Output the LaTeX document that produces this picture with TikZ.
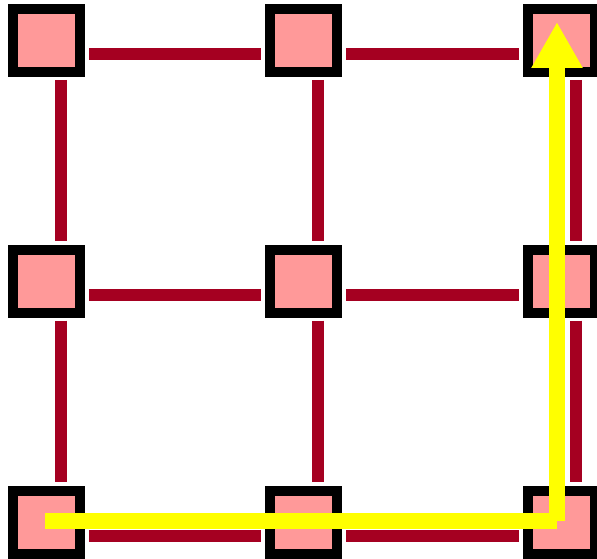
\documentclass[tikz,border=0pt]{standalone}
\usetikzlibrary{arrows.meta,calc}
\definecolor{nodepink}{HTML}{FF9999}
\definecolor{edgered}{HTML}{A50021}
\definecolor{pathyellow}{HTML}{FFFF00}
\tikzset{
  gridnode/.style={draw=black, fill=nodepink, line width=10pt, line join=miter,
    minimum width=67pt, minimum height=63pt, inner sep=0pt, outer sep=0pt},
  hedge/.style={draw=edgered, line width=12pt, line cap=butt, shorten <=9pt, shorten >=9pt},
  vedge/.style={draw=edgered, line width=12pt, line cap=butt, shorten <=8pt, shorten >=8.5pt},
  route/.style={draw=pathyellow, line width=16pt, line cap=butt}
}
\begin{document}
\begin{tikzpicture}[x=1pt,y=-1pt]
\useasboundingbox (0,0) rectangle (597,559);
% nodes
\node[gridnode] (n00) at (46.5,40.5) {};
\node[gridnode] (n10) at (303.5,40.5) {};
\node[gridnode] (n20) at (561.5,40.5) {};
\node[gridnode] (n01) at (46.5,281) {};
\node[gridnode] (n11) at (303.5,281) {};
\node[gridnode] (n21) at (561.5,281) {};
\node[gridnode] (n02) at (46.5,522) {};
\node[gridnode] (n12) at (303.5,522) {};
\node[gridnode] (n22) at (561.5,522) {};
% horizontal edges (offset)
\foreach \a/\b in {n00/n10,n10/n20,n01/n11,n11/n21,n02/n12,n12/n22}{
  \draw[hedge] ([shift={(0,13.5)}]\a.east) -- ([shift={(0,13.5)}]\b.west);
}
% vertical edges (offset)
\foreach \a/\b in {n00/n01,n01/n02,n10/n11,n11/n12,n20/n21,n21/n22}{
  \draw[vedge] ([shift={(14.5,0)}]\a.south) -- ([shift={(14.5,0)}]\b.north);
}
% yellow route
\coordinate (ystart) at ($(n02.center)+(-1.5,-1)$);
\coordinate (ycorner) at ($(n22.center)+(-4.5,-1)$);
\coordinate (ytip) at ($(n20.center)+(-4.5,-18.5)$);
\draw[route] (ystart) -- (ycorner);
\draw[route, -{Triangle[length=46pt,width=48pt]}] (ycorner) -- (ytip);
\end{tikzpicture}
\end{document}
